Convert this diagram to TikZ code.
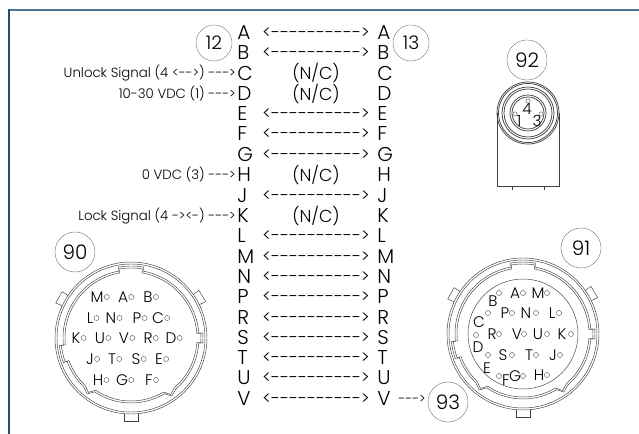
\documentclass[tikz,border=0pt]{standalone}
\usepackage{fontspec}
\setmainfont{Poppins}[UprightFont=* Light,Ligatures=TeXOff]
\definecolor{frametop}{HTML}{4A7598}
\definecolor{frameleft}{HTML}{1F4E79}
\newcommand\shell{
  \foreach \dd in {0,2} {
    \draw[wire] (0,0) circle ({74+\dd});
    \draw[wire] (100:{66+\dd}) arc[start angle=100,end angle=186,radius={66+\dd}]
      -- (186:{70+\dd}) arc[start angle=186,end angle=200,radius={70+\dd}]
      -- (200:{66+\dd}) arc[start angle=200,end angle=226,radius={66+\dd}]
      -- (232:{69+\dd}) -- (236:{63+\dd}) arc[start angle=236,end angle=301,radius={63+\dd}]
      -- (305:{69+\dd}) -- (311:{66+\dd}) arc[start angle=311,end angle=356,radius={66+\dd}]
      -- (356:{70+\dd}) arc[start angle=356,end angle=364,radius={70+\dd}]
      -- (364:{66+\dd}) arc[start angle=364,end angle=440,radius={66+\dd}]
      -- (80:{70+\dd}) arc[start angle=80,end angle=100,radius={70+\dd}] -- cycle;
  }
  \draw[wire] (146:76) -- (146:83) -- (155:83) -- (155:76);
  \draw[wire] (26:76) -- (26:83) -- (35:83) -- (35:76);
  \draw[wire] (-7,-76) -- (-7,-83) -- (7,-83) -- (7,-76);
}
\tikzset{
  lettr/.style={inner sep=0pt,anchor=west,font=\fontsize{15}{15}\selectfont},
  wirelab/.style={inner sep=0pt,font=\fontsize{13}{13}\selectfont},
  side/.style={inner sep=0pt,anchor=east,font=\fontsize{10}{10}\selectfont},
  tag/.style={draw=black!55,line width=.3pt,shape=circle,minimum size=27pt,inner sep=0pt,font=\fontsize{14}{14}\selectfont},
  bigtag/.style={tag,minimum size=30pt,font=\fontsize{15}{15}\selectfont},
  pin/.style={draw=black!70,line width=.3pt,shape=circle,minimum size=3.8pt,inner sep=0pt},
  plab/.style={inner sep=0pt,font=\fontsize{11.5}{11.5}\selectfont},
  wire/.style={line width=.35pt,black!75}
}
\begin{document}
\begin{tikzpicture}[x=.75pt,y=-.75pt]
  \useasboundingbox (0,0) rectangle (639,434);
  \draw[line width=1.5pt,color=frametop] (9,10) -- (639,10);
  \draw[line width=1pt,color=frameleft] (9,9.5) -- (9,434);

  % pin rows
  \foreach \name/\yy in {A/33,B/53,C/73,D/94,E/114,F/134,G/155,H/175,J/196,K/216,L/236,M/257,N/277,P/297,R/318,S/338,T/358,U/378,V/399} {
    \path (237,\yy) node[lettr] (l\name) {\name};
    \path (377,\yy) node[lettr] (r\name) {\name};
  }
  \foreach \name in {A,B,E,F,G,J,L,M,N,P,R,S,T,U,V}
    \path (316,0 |- l\name) node[wirelab] (w\name) {<---------->};
  \foreach \name in {C,D,H,K}
    \path (316,0 |- l\name) node[wirelab] (w\name) {(N/C)};

  \path (236,73) node[side] (unlock) {Unlock Signal (4 <-->) --->};
  \path (236,94) node[side] (vdcp) {10-30 VDC (1) --->};
  \path (236,175) node[side] (vdcn) {0 VDC (3) --->};
  \path (236,216) node[side] (lock) {Lock Signal (4 -><-) --->};
  \path (426,399) node[side] (out) {--->};

  \path (214,43) node[tag] (12) {12};
  \path (411,43) node[tag] (13) {13};
  \path (527,60) node[bigtag] (92) {92};
  \path (75,252) node[bigtag] (90) {90};
  \path (581,248) node[bigtag] (91) {91};
  \path (448,402) node[bigtag] (93) {93};

  % connector 92
  \foreach \rr in {31,29.5,26,24,18,16}
    \draw[wire,line width=.55pt] (528,113) circle (\rr);
  \draw[wire,line width=.7pt] (497,113) -- (497,186) -- (559,186) -- (559,113);
  \draw[wire] (512,186) -- (512,190) (544,186) -- (544,190);
  \path (528,101) node[pin,minimum size=3.2pt] (p4) {};
  \path (515,114) node[pin,minimum size=3.2pt] (p1) {};
  \path (541,114) node[pin,minimum size=3.2pt] (p3) {};
  \path (527,109) node[plab] (n4) {4};
  \path (519,121) node[plab] (n1) {1};
  \path (537,121) node[plab] (n3) {3};

  % connector 90
  \begin{scope}[shift={(131,338)},y=.75pt]
    \shell
  \end{scope}
  \foreach \name/\xx/\yy in {M/97/297,A/123/297,B/148/297,L/90/318,N/111/318,P/137/318,C/158/318,K/76/338,U/100/338,V/124/338,R/148/338,D/171/338,J/90/359,T/112/359,S/136/359,E/159/359,H/98/380,G/122/380,F/149/380} {
    \path (\xx,\yy) node[plab] (a\name) {\name};
    \path (a\name.east) ++(3,0) node[pin] (b\name) {};
  }

  % connector 91
  \begin{scope}[shift={(523,334)},y=.75pt]
    \shell
    \draw[wire] (0,0) circle (55);
  \end{scope}
  \foreach \name/\xx/\yy/\cx/\cy in {M/538/293/547/293,A/515/293/523/293,B/493/301/499/293,C/479/322/488/313,D/478/347/476/335,E/487/368/488/355,F/506/380/499/376,G/515/376/523/376,H/539/375/547/375,P/505/313/512/313,N/526/313/536/313,L/552/313/559/313,R/492/334/499/334,V/517/334/524/334,U/538/334/547/334,K/562/334/571/334,S/503/355/512/355,T/529/355/536/355,J/553/355/560/355} {
    \path (\xx,\yy) node[plab] (c\name) {\name};
    \path (\cx,\cy) node[pin] (d\name) {};
  }
\end{tikzpicture}
\end{document}
